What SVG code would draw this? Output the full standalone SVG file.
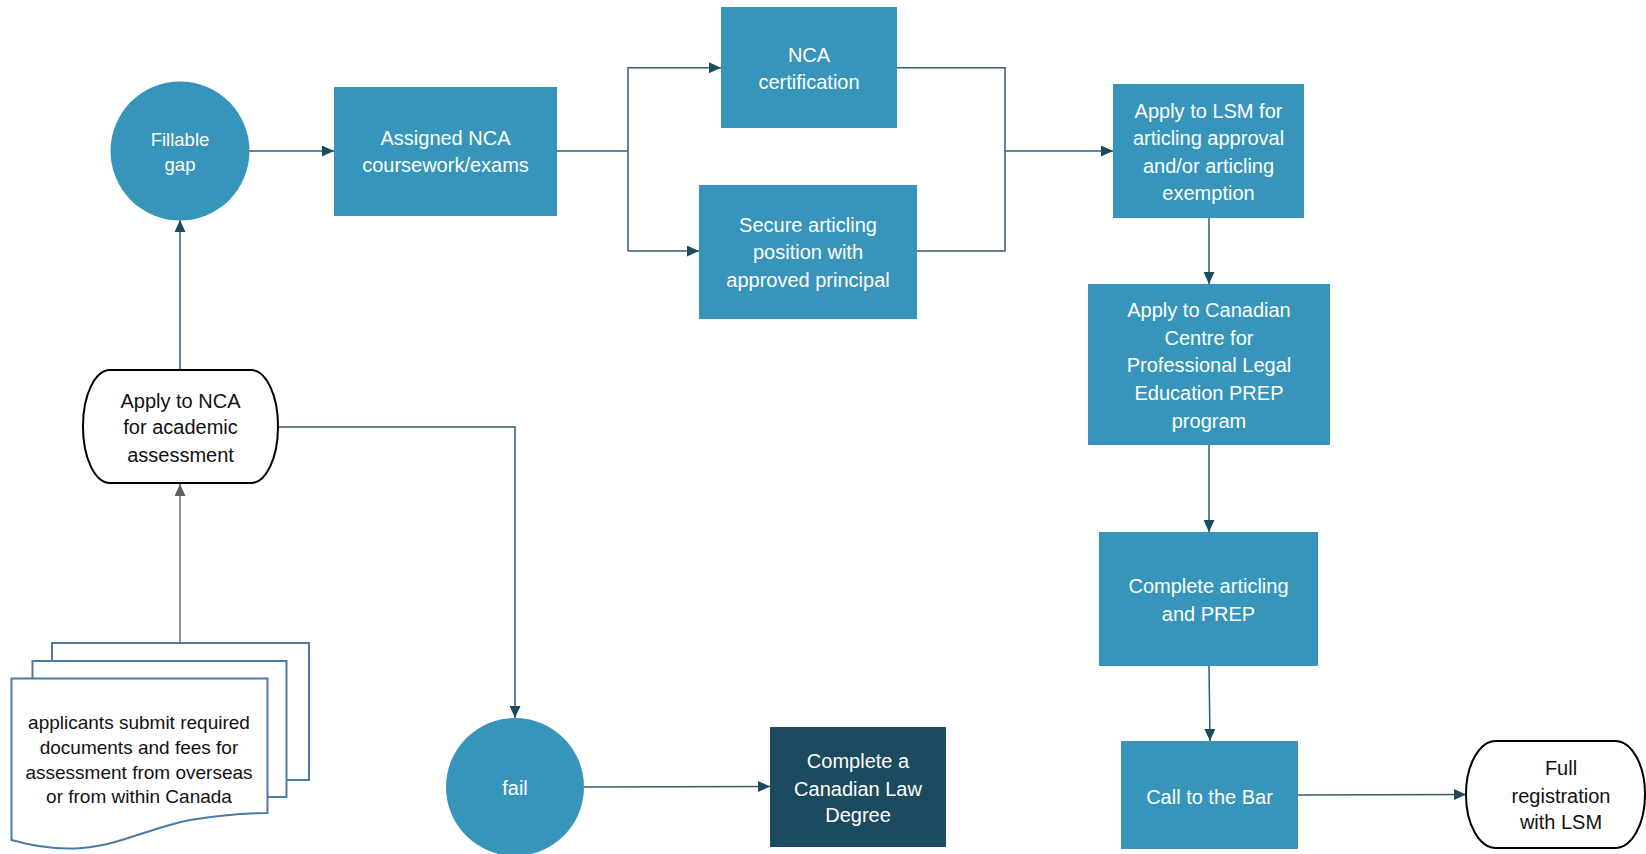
<svg xmlns="http://www.w3.org/2000/svg" width="1646" height="854" viewBox="0 0 1646 854">
<style>
.box{fill:#3795BB}
.dark{fill:#1C4A5E}
.term{fill:#fff;stroke:#000;stroke-width:2}
.page{fill:#fff;stroke:#4A7BA6;stroke-width:2}
.t{font-family:"Liberation Sans",Arial,sans-serif;font-size:20px;fill:#fff;text-anchor:middle}
.k{fill:#111}
.ln{fill:none;stroke:#2F5F73;stroke-width:1.5}
.lg{fill:none;stroke:#6E6E6E;stroke-width:1.5}
</style>
<defs>
<marker id="ar" markerUnits="userSpaceOnUse" markerWidth="12" markerHeight="11" refX="12" refY="5.5" orient="auto"><path d="M0,0 L12,5.5 L0,11 z" fill="#1C4B5E"/></marker>
<marker id="ag" markerUnits="userSpaceOnUse" markerWidth="12" markerHeight="11" refX="12" refY="5.5" orient="auto"><path d="M0,0 L12,5.5 L0,11 z" fill="#606060"/></marker>
</defs>
<rect width="1646" height="854" fill="#fff"/>
<g id="connectors">
<path class="ln" d="M249,151 L334,151" marker-end="url(#ar)"/>
<path class="ln" d="M557,151 L628,151"/>
<path class="ln" d="M628,251 L628,67.7 L721,67.7" marker-end="url(#ar)"/>
<path class="ln" d="M628,251 L699,251" marker-end="url(#ar)"/>
<path class="ln" d="M897,67.7 L1005,67.7 L1005,251 L917,251"/>
<path class="ln" d="M1005,151 L1113,151" marker-end="url(#ar)"/>
<path class="ln" d="M1209,218 L1209,284" marker-end="url(#ar)"/>
<path class="ln" d="M1209,445 L1209,532" marker-end="url(#ar)"/>
<path class="ln" d="M1209,666 L1210,741" marker-end="url(#ar)"/>
<path class="ln" d="M1298,795 L1466,794.5" marker-end="url(#ar)"/>
<path class="lg" d="M180,643 L180,484" marker-end="url(#ag)"/>
<path class="ln" d="M180,370 L180,220" marker-end="url(#ar)"/>
<path class="ln" d="M278,427 L515,427 L515,718" marker-end="url(#ar)"/>
<path class="ln" d="M584,787 L770,786.5" marker-end="url(#ar)"/>
</g>
<g id="fillable-gap">
<circle class="box" cx="180" cy="151" r="69.5"/>
<text class="t" style="font-size:18.5px"><tspan x="180" y="146">Fillable</tspan><tspan x="180" y="171">gap</tspan></text>
</g>
<g id="assigned-nca">
<rect class="box" x="334" y="87" width="223" height="129"/>
<text class="t"><tspan x="445.5" y="145">Assigned NCA</tspan><tspan x="445.5" y="172">coursework/exams</tspan></text>
</g>
<g id="nca-certification">
<rect class="box" x="721" y="7" width="176" height="121"/>
<text class="t"><tspan x="809" y="62">NCA</tspan><tspan x="809" y="89">certification</tspan></text>
</g>
<g id="secure-articling">
<rect class="box" x="699" y="185" width="218" height="134"/>
<text class="t"><tspan x="808" y="232">Secure articling</tspan><tspan x="808" y="259">position with</tspan><tspan x="808" y="287">approved principal</tspan></text>
</g>
<g id="apply-lsm">
<rect class="box" x="1113" y="84" width="191" height="134"/>
<text class="t"><tspan x="1208.5" y="118">Apply to LSM for</tspan><tspan x="1208.5" y="145">articling approval</tspan><tspan x="1208.5" y="173">and/or articling</tspan><tspan x="1208.5" y="200">exemption</tspan></text>
</g>
<g id="apply-ccple">
<rect class="box" x="1088" y="284" width="242" height="161"/>
<text class="t"><tspan x="1209" y="317">Apply to Canadian</tspan><tspan x="1209" y="345">Centre for</tspan><tspan x="1209" y="372">Professional Legal</tspan><tspan x="1209" y="400">Education PREP</tspan><tspan x="1209" y="428">program</tspan></text>
</g>
<g id="complete-articling">
<rect class="box" x="1099" y="532" width="219" height="134"/>
<text class="t"><tspan x="1208.5" y="593">Complete articling</tspan><tspan x="1208.5" y="621">and PREP</tspan></text>
</g>
<g id="call-to-bar">
<rect class="box" x="1121" y="741" width="177" height="108"/>
<text class="t"><tspan x="1209.5" y="804">Call to the Bar</tspan></text>
</g>
<g id="full-registration">
<rect class="term" x="1466" y="741" width="179" height="107" rx="30" ry="53"/>
<text class="t k"><tspan x="1561" y="775">Full</tspan><tspan x="1561" y="803">registration</tspan><tspan x="1561" y="829">with LSM</tspan></text>
</g>
<g id="apply-nca">
<rect class="term" x="83" y="370" width="195" height="113" rx="27" ry="56"/>
<text class="t k"><tspan x="180.5" y="408">Apply to NCA</tspan><tspan x="180.5" y="434">for academic</tspan><tspan x="180.5" y="462">assessment</tspan></text>
</g>
<g id="documents">
<rect class="page" x="52" y="643" width="257" height="137"/>
<rect class="page" x="32.5" y="661" width="254" height="136"/>
<path class="page" d="M11.5,678.5 L267.5,678.5 L267.5,813 C250,813 220,815 190,820 C150,828 120,845 82,848 C60,850 40,848 11.5,840 Z"/>
<text class="t k" style="font-size:19px"><tspan x="139" y="729">applicants submit required</tspan><tspan x="139" y="754">documents and fees for</tspan><tspan x="139" y="779">assessment from overseas</tspan><tspan x="139" y="803">or from within Canada</tspan></text>
</g>
<g id="fail">
<circle class="box" cx="515" cy="787" r="69"/>
<text class="t"><tspan x="515" y="795">fail</tspan></text>
</g>
<g id="complete-law-degree">
<rect class="dark" x="770" y="727" width="176" height="120"/>
<text class="t"><tspan x="858" y="768">Complete a</tspan><tspan x="858" y="796">Canadian Law</tspan><tspan x="858" y="822">Degree</tspan></text>
</g>
</svg>
